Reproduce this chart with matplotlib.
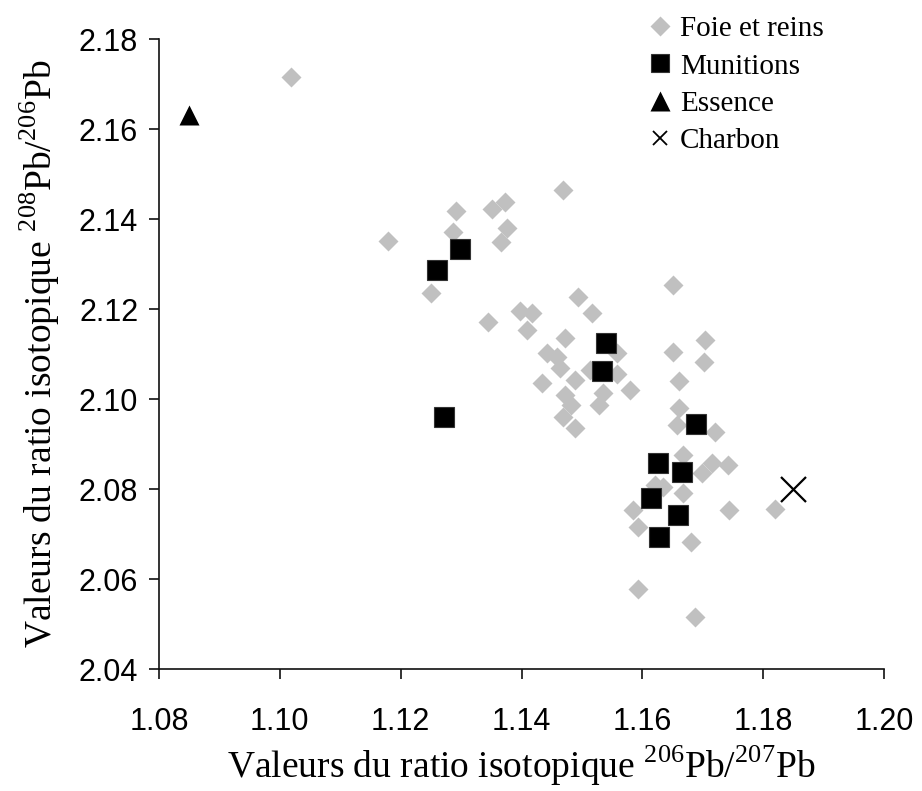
import matplotlib
matplotlib.use("Agg")
import matplotlib.pyplot as plt

plt.rcParams['mathtext.fontset'] = 'custom'
plt.rcParams['mathtext.rm'] = 'Liberation Serif'

# Foie et reins (gray diamonds)
foie_x = [1.1018, 1.1179, 1.1292, 1.1287, 1.1351, 1.1373, 1.1376, 1.1366, 1.1250,
          1.1345, 1.1397, 1.1417, 1.1409, 1.1469, 1.1493, 1.1517, 1.1651, 1.1472,
          1.1442, 1.1459, 1.1464, 1.1434, 1.1489, 1.1472, 1.1482, 1.1469, 1.1489,
          1.1558, 1.1513, 1.1558, 1.1535, 1.1528, 1.1580, 1.1651, 1.1704, 1.1702,
          1.1661, 1.1661, 1.1657, 1.1720, 1.1667, 1.1699, 1.1715, 1.1742, 1.1634,
          1.1621, 1.1667, 1.1585, 1.1743, 1.1820, 1.1593, 1.1680, 1.1593, 1.1687]
foie_y = [2.1716, 2.1351, 2.1418, 2.1371, 2.1422, 2.1438, 2.1380, 2.1349, 2.1236,
          2.1171, 2.1196, 2.1191, 2.1153, 2.1464, 2.1227, 2.1191, 2.1253, 2.1136,
          2.1102, 2.1093, 2.1069, 2.1036, 2.1042, 2.1009, 2.0987, 2.0960, 2.0936,
          2.1102, 2.1064, 2.1056, 2.1013, 2.0987, 2.1020, 2.1104, 2.1131, 2.1082,
          2.1040, 2.0980, 2.0942, 2.0927, 2.0876, 2.0836, 2.0858, 2.0853, 2.0804,
          2.0809, 2.0791, 2.0753, 2.0753, 2.0756, 2.0716, 2.0682, 2.0578, 2.0516]

# Munitions (black squares)
mun_x = [1.1260, 1.1298, 1.1272, 1.1540, 1.1533, 1.1689, 1.1626, 1.1666, 1.1614, 1.1659, 1.1628]
mun_y = [2.1287, 2.1333, 2.0960, 2.1124, 2.1062, 2.0944, 2.0858, 2.0838, 2.0780, 2.0742, 2.0693]

# Essence (triangle)
ess_x = [1.0850]
ess_y = [2.1631]

# Charbon (cross)
cha_x = [1.1849]
cha_y = [2.0800]

labels = ['Foie et reins', 'Munitions', 'Essence', 'Charbon']
xticks = [1.08, 1.10, 1.12, 1.14, 1.16, 1.18, 1.20]
yticks = [2.04, 2.06, 2.08, 2.10, 2.12, 2.14, 2.16, 2.18]

fig = plt.figure(figsize=(9.22, 7.91), dpi=100)
ax = fig.add_axes([159/922, 1-669/791, (884-159)/922, (669-39)/791])

ax.plot(foie_x, foie_y, linestyle='none', marker='D', ms=10.5, color='#c0c0c0',
        mec='none', label=labels[0])
ax.plot(mun_x, mun_y, linestyle='none', marker='s', ms=14, color='black',
        mec='#333333', mew=0.8, label=labels[1])
ax.plot(ess_x, ess_y, linestyle='none', marker='^', ms=15, color='black',
        mec='none', label=labels[2])
ax.plot(cha_x, cha_y, linestyle='none', marker='x', ms=18, color='black',
        mew=1.6, label=labels[3])

ax.set_xlim(1.08, 1.20)
ax.set_ylim(2.04, 2.18)
ax.set_xticks(xticks)
ax.set_yticks(yticks)
ax.set_xticklabels([f'{v:.2f}' for v in xticks])
ax.set_yticklabels([f'{v:.2f}' for v in yticks])

for s in ['top', 'right']:
    ax.spines[s].set_visible(False)
for s in ['left', 'bottom']:
    ax.spines[s].set_linewidth(1.2)
    ax.spines[s].set_color('#111111')

ax.tick_params(axis='both', direction='out', length=7, width=1.2, color='#111111',
               labelsize=22)
ax.tick_params(axis='x', pad=20)
ax.tick_params(axis='y', pad=8)
for t in ax.get_xticklabels() + ax.get_yticklabels():
    t.set_fontfamily('Liberation Sans')

ax.set_xlabel(r'Valeurs du ratio isotopique $^{\mathrm{206}}$Pb/$^{\mathrm{207}}$Pb',
              fontfamily='Liberation Serif', fontsize=27, labelpad=5)
ax.set_ylabel(r'Valeurs du ratio isotopique $^{\mathrm{208}}$Pb/$^{\mathrm{206}}$Pb',
              fontfamily='Liberation Serif', fontsize=27, labelpad=12)

leg = ax.legend(loc='upper left', bbox_to_anchor=(648/922, 1-16/791),
                bbox_transform=fig.transFigure, frameon=False,
                prop={'family': 'Liberation Serif', 'size': 21},
                handlelength=0.8, handletextpad=0.3, labelspacing=0.37,
                markerscale=1.0, borderpad=0, borderaxespad=0)
handles = leg.legend_handles
handles[0].set_markersize(10)
handles[1].set_markersize(13)
handles[2].set_markersize(14)
handles[3].set_markersize(10)
handles[3].set_markeredgewidth(1.3)

fig.savefig('out.png', dpi=100, facecolor='white')
